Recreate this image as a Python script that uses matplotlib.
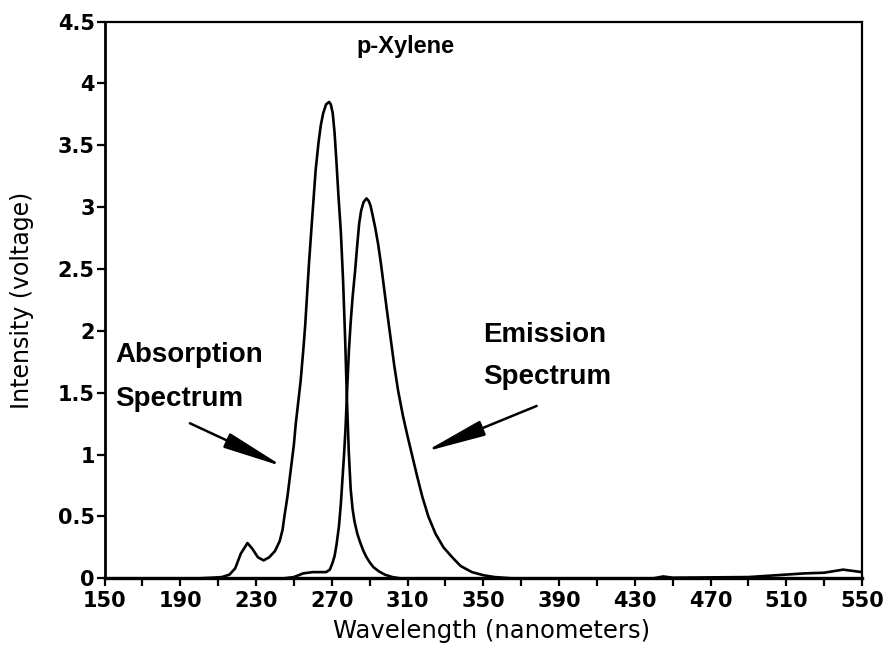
import matplotlib
matplotlib.use("Agg")
import matplotlib.pyplot as plt
import numpy as np

# Absorption spectrum (nm, intensity)
abs_wl = [150, 200, 207, 212, 216, 219, 222, 225.5, 228, 231, 234, 237, 240, 242.5,
          244, 245, 246.6, 248.3, 250, 251, 252.5, 253.6, 255, 256, 257, 258, 259.8,
          261.5, 263, 264.2, 265.5, 267, 268.6, 269.5, 270.5, 271.5, 272.5, 273.5,
          274.8, 276, 277.1, 278, 279, 280, 281, 282, 283.5, 285, 286.5, 288, 290,
          292, 295, 298, 302, 306, 330]
abs_val = [0, 0, 0.005, 0.01, 0.03, 0.08, 0.20, 0.285, 0.24, 0.17, 0.145, 0.17, 0.22, 0.30,
           0.39, 0.5, 0.66, 0.87, 1.08, 1.25, 1.45, 1.6, 1.85, 2.05, 2.3, 2.55, 2.94,
           3.3, 3.52, 3.66, 3.76, 3.83, 3.85, 3.83, 3.76, 3.6, 3.36, 3.1,
           2.8, 2.4, 1.92, 1.45, 1.02, 0.72, 0.56, 0.46, 0.36, 0.29, 0.23, 0.18, 0.13,
           0.09, 0.055, 0.03, 0.01, 0.0, 0.0]

# Emission spectrum (nm, intensity)
em_wl = [245, 250, 255, 260, 267, 269, 270.3, 271.5, 272.5, 273.8, 274.8, 275.6, 276.5,
         277.3, 278.2, 279.1, 280, 281, 282.3, 283.5, 284.5, 285.5, 286.8, 288.3, 289.5,
         290.5, 291.5, 293, 294.5, 296, 297.5, 299, 301, 303, 305, 307.5, 310, 312.5,
         315, 317.8, 321, 324.8, 329, 333.6, 338, 344, 350, 356, 365, 400, 440, 445,
         450, 490, 500, 510, 520, 530, 540, 545, 550]
em_val = [0, 0.01, 0.04, 0.05, 0.05, 0.07, 0.12, 0.18, 0.27, 0.42, 0.6, 0.79, 1.0,
          1.22, 1.55, 1.85, 2.07, 2.27, 2.48, 2.7, 2.87, 2.97, 3.04, 3.07, 3.05,
          3.01, 2.94, 2.83, 2.7, 2.54, 2.36, 2.18, 1.95, 1.72, 1.52, 1.32, 1.15, 0.99,
          0.83, 0.66, 0.5, 0.36, 0.25, 0.17, 0.1, 0.05, 0.025, 0.01, 0.0, 0.0, 0.0, 0.015,
          0.005, 0.01, 0.02, 0.03, 0.04, 0.045, 0.07, 0.06, 0.05]

x_major = list(range(150, 551, 40))
x_minor = list(range(170, 531, 40))
y_ticks = [0, 0.5, 1, 1.5, 2, 2.5, 3, 3.5, 4, 4.5]
y_labels = ["0", "0.5", "1", "1.5", "2", "2.5", "3", "3.5", "4", "4.5"]

fig = plt.figure(figsize=(8.88, 6.52), dpi=100)
ax = fig.add_axes([104.5/888, 1-578.3/652, (862-104.5)/888, (578.3-21.5)/652])

ax.plot(abs_wl, abs_val, color="black", lw=1.9, solid_joinstyle="round")
ax.plot(em_wl, em_val, color="black", lw=1.9, solid_joinstyle="round")

ax.set_xlim(150, 550)
ax.set_ylim(0, 4.5)
ax.set_xticks(x_major)
ax.set_xticks(x_minor, minor=True)
ax.set_yticks(y_ticks)
ax.set_yticklabels(y_labels)

for s in ax.spines.values():
    s.set_linewidth(1.6)
ax.spines["bottom"].set_linewidth(2.4)
ax.spines["left"].set_linewidth(2.0)
ax.tick_params(axis="both", which="both", direction="out", length=6, width=1.6)
ax.tick_params(axis="x", pad=3)
ax.tick_params(axis="y", pad=1)
for lab in ax.get_xticklabels() + ax.get_yticklabels():
    lab.set_fontfamily("DejaVu Sans")
    lab.set_fontweight("bold")
    lab.set_fontsize(15)

fig.text(492/888, 1-631/652, "Wavelength (nanometers)", ha="center", va="center",
         fontsize=17.5, family="DejaVu Sans")
fig.text(22/888, 1-300/652, "Intensity (voltage)", ha="center", va="center",
         rotation=90, fontsize=17, family="DejaVu Sans")

tf = dict(family="Liberation Sans", weight="bold", color="black")
ax.text(308.7, 4.245, "p-Xylene", ha="center", va="baseline", fontsize=17, **tf)
ax.text(155.5, 1.75, "Absorption", ha="left", va="baseline", fontsize=20, **tf)
ax.text(155.5, 1.39, "Spectrum", ha="left", va="baseline", fontsize=20, **tf)
ax.text(350, 1.91, "Emission", ha="left", va="baseline", fontsize=20, **tf)
ax.text(350, 1.57, "Spectrum", ha="left", va="baseline", fontsize=20, **tf)

ap = dict(arrowstyle="-|>,head_length=1.7,head_width=0.22", mutation_scale=22,
          color="black", lw=1.8, shrinkA=0, shrinkB=0)
ax.annotate("", xy=(244.4, 0.902), xytext=(195.1, 1.253), arrowprops=ap)
ax.annotate("", xy=(319.2, 1.023), xytext=(378.2, 1.393), arrowprops=ap)

fig.savefig("out.png", dpi=100)
